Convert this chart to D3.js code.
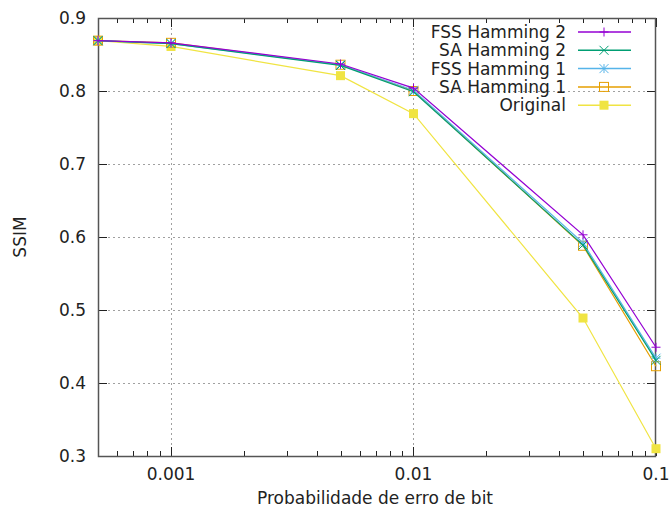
<!DOCTYPE html>
<html>
<head>
<meta charset="utf-8">
<script src="https://d3js.org/d3.v7.min.js"></script>
<style>
  body { margin: 0; background: #fff; }
  text { font-family: "DejaVu Sans", sans-serif; font-size: 17px; fill: #222; }
</style>
</head>
<body>
<div id="chart"></div>
<script>
// data
var probs = [0.0005, 0.001, 0.005, 0.01, 0.05, 0.1];
var fssHam2 = [0.869, 0.866, 0.837, 0.804, 0.603, 0.449];
var saHam2  = [0.869, 0.865, 0.835, 0.799, 0.589, 0.431];
var fssHam1 = [0.869, 0.865, 0.836, 0.801, 0.592, 0.434];
var saHam1  = [0.869, 0.866, 0.836, 0.800, 0.588, 0.423];
var original = [0.869, 0.861, 0.821, 0.769, 0.489, 0.310];
var yTicks = [0.3, 0.4, 0.5, 0.6, 0.7, 0.8, 0.9];
var xTicks = [0.001, 0.01, 0.1];

var series = [
  { name: "FSS Hamming 2", values: fssHam2, color: "#9400d3", pt: "plus" },
  { name: "SA Hamming 2", values: saHam2, color: "#009e73", pt: "cross" },
  { name: "FSS Hamming 1", values: fssHam1, color: "#56b4e9", pt: "star" },
  { name: "SA Hamming 1", values: saHam1, color: "#e69f00", pt: "box" },
  { name: "Original", values: original, color: "#f0e442", pt: "fbox" }
];

var width = 672, height = 508;
var mLeft = 98, mRight = 656, mTop = 18, mBottom = 456;

var svg = d3.select("#chart").append("svg")
    .attr("width", width)
    .attr("height", height);

var x = d3.scaleLog().domain([0.0005, 0.1]).range([mLeft, mRight]);
var y = d3.scaleLinear().domain([0.3, 0.9]).range([mBottom, mTop]);

// grid
var grid = svg.append("g").attr("stroke", "#a0a0a0").attr("stroke-width", 1)
    .attr("stroke-dasharray", "2,3");
yTicks.filter(function(d) { return d > 0.3 && d < 0.9; }).forEach(function(d) {
  grid.append("line").attr("x1", mLeft).attr("x2", mRight)
      .attr("y1", Math.round(y(d)) + 0.5).attr("y2", Math.round(y(d)) + 0.5);
});
xTicks.filter(function(d) { return d < 0.1; }).forEach(function(d) {
  grid.append("line").attr("y1", mTop).attr("y2", mBottom)
      .attr("x1", Math.round(x(d)) + 0.5).attr("x2", Math.round(x(d)) + 0.5);
});

// ticks (inward, mirrored)
var ticks = svg.append("g").attr("stroke", "#222").attr("stroke-width", 1);
yTicks.forEach(function(d) {
  var yy = Math.round(y(d)) + 0.5;
  ticks.append("line").attr("x1", mLeft).attr("x2", mLeft + 9).attr("y1", yy).attr("y2", yy);
  ticks.append("line").attr("x1", mRight).attr("x2", mRight - 9).attr("y1", yy).attr("y2", yy);
});
var minor = x.ticks().filter(function(d) { return xTicks.indexOf(d) < 0; });
minor.forEach(function(d) {
  var xx = Math.round(x(d)) + 0.5;
  ticks.append("line").attr("x1", xx).attr("x2", xx).attr("y1", mBottom).attr("y2", mBottom - 5);
  ticks.append("line").attr("x1", xx).attr("x2", xx).attr("y1", mTop).attr("y2", mTop + 5);
});
xTicks.forEach(function(d) {
  var xx = Math.round(x(d)) + 0.5;
  ticks.append("line").attr("x1", xx).attr("x2", xx).attr("y1", mBottom).attr("y2", mBottom - 9);
  ticks.append("line").attr("x1", xx).attr("x2", xx).attr("y1", mTop).attr("y2", mTop + 9);
});

// border
svg.append("rect").attr("x", mLeft + 0.5).attr("y", mTop + 0.5)
    .attr("width", mRight - mLeft - 1).attr("height", mBottom - mTop)
    .attr("fill", "none").attr("stroke", "#555").attr("stroke-width", 1.5);

// tick labels
yTicks.forEach(function(d) {
  svg.append("text").attr("x", mLeft - 12).attr("y", y(d) + 6)
      .attr("text-anchor", "end").text(d.toFixed(1));
});
xTicks.forEach(function(d) {
  svg.append("text").attr("x", x(d)).attr("y", mBottom + 24)
      .attr("text-anchor", "middle").text(String(d));
});

// axis titles
svg.append("text").attr("x", (mLeft + mRight) / 2 - 2).attr("y", 504)
    .attr("text-anchor", "middle").text("Probabilidade de erro de bit");
svg.append("text").attr("transform", "translate(26," + ((mTop + mBottom) / 2) + ") rotate(-90)")
    .attr("text-anchor", "middle").text("SSIM");

function drawPoint(g, type, cx, cy, color) {
  var s = 4.5;
  if (type === "plus") {
    g.append("path").attr("d", "M" + (cx - s) + "," + cy + "H" + (cx + s) + "M" + cx + "," + (cy - s) + "V" + (cy + s))
        .attr("stroke", color).attr("fill", "none");
  } else if (type === "cross") {
    g.append("path").attr("d", "M" + (cx - s) + "," + (cy - s) + "L" + (cx + s) + "," + (cy + s) + "M" + (cx - s) + "," + (cy + s) + "L" + (cx + s) + "," + (cy - s))
        .attr("stroke", color).attr("fill", "none");
  } else if (type === "star") {
    g.append("path").attr("d", "M" + (cx - s) + "," + cy + "H" + (cx + s) + "M" + cx + "," + (cy - s) + "V" + (cy + s) +
        "M" + (cx - s) + "," + (cy - s) + "L" + (cx + s) + "," + (cy + s) + "M" + (cx - s) + "," + (cy + s) + "L" + (cx + s) + "," + (cy - s))
        .attr("stroke", color).attr("fill", "none");
  } else if (type === "box") {
    g.append("rect").attr("x", cx - s).attr("y", cy - s).attr("width", 2 * s).attr("height", 2 * s)
        .attr("stroke", color).attr("fill", "none");
  } else {
    g.append("rect").attr("x", cx - s).attr("y", cy - s).attr("width", 2 * s).attr("height", 2 * s)
        .attr("fill", color);
  }
}

var line = d3.line()
    .x(function(d, i) { return x(probs[i]); })
    .y(function(d) { return y(d); });

// draw in reverse so the first series is on top
series.slice().reverse().forEach(function(s) {
  var g = svg.append("g");
  g.append("path").datum(s.values)
      .attr("fill", "none").attr("stroke", s.color).attr("stroke-width", 1.2)
      .attr("d", line);
  s.values.forEach(function(v, i) {
    drawPoint(g, s.pt, x(probs[i]), y(v), s.color);
  });
});

// legend
var legend = svg.append("g");
series.forEach(function(s, i) {
  var ly = 32 + i * 18.3;
  legend.append("text").attr("x", 566).attr("y", ly + 6)
      .attr("text-anchor", "end").text(s.name);
  legend.append("line").attr("x1", 578).attr("x2", 631).attr("y1", ly).attr("y2", ly)
      .attr("stroke", s.color).attr("stroke-width", 1.5);
  drawPoint(legend, s.pt, 604, ly, s.color);
});
</script>
</body>
</html>
